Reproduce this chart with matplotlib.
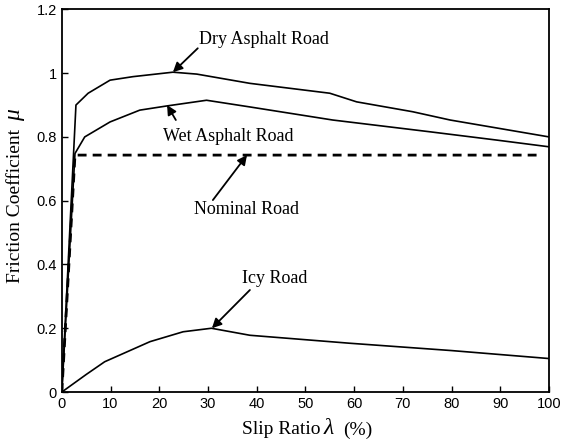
import matplotlib
matplotlib.use("Agg")
import matplotlib.pyplot as plt

dry_x = [0, 2.9, 5.4, 9.9, 14.6, 22.8, 27.7, 38.6, 55, 60.5, 72, 79.7, 100]
dry_y = [0, 0.90, 0.937, 0.978, 0.989, 1.003, 0.997, 0.968, 0.937, 0.91, 0.879, 0.853, 0.80]

wet_x = [0, 2.7, 4.7, 9.9, 16, 21.5, 29.7, 38.6, 55.6, 75.6, 89.3, 100]
wet_y = [0, 0.748, 0.80, 0.847, 0.884, 0.897, 0.915, 0.894, 0.853, 0.816, 0.79, 0.769]

nom_x = [0, 2.7, 98.5]
nom_y = [0, 0.743, 0.743]

icy_x = [0, 5, 8.8, 18.1, 24.9, 30.7, 38.6, 59.1, 80, 100]
icy_y = [0, 0.055, 0.095, 0.158, 0.189, 0.20, 0.178, 0.153, 0.13, 0.105]

xticks = [0, 10, 20, 30, 40, 50, 60, 70, 80, 90, 100]
yticks = [0, 0.2, 0.4, 0.6, 0.8, 1.0, 1.2]
ytick_labels = ["0", "0.2", "0.4", "0.6", "0.8", "1", "1.2"]

W, H = 562, 446
fig = plt.figure(figsize=(W / 100, H / 100), dpi=100)
ax = fig.add_axes([0.110, 0.121, 0.867, 0.858])

ax.plot(dry_x, dry_y, color='black', lw=1.2)
ax.plot(wet_x, wet_y, color='black', lw=1.2)
ax.plot(nom_x, nom_y, color='black', lw=2.0, ls=(0, (3.2, 2.2)))
ax.plot(icy_x, icy_y, color='black', lw=1.2)

ax.set_xlim(0, 100)
ax.set_ylim(0, 1.2)
ax.set_xticks(xticks)
ax.set_yticks(yticks)
ax.set_yticklabels(ytick_labels)
ax.tick_params(direction='in', length=4, width=1, labelsize=10.5,
               top=False, right=False)
for lab in ax.get_xticklabels() + ax.get_yticklabels():
    lab.set_fontfamily('Liberation Sans')
for s in ax.spines.values():
    s.set_linewidth(1.3)

serif = 'Liberation Serif'

def fx(px):
    return px / W

def fy(py):
    return 1 - py / H

# axis labels built from pieces so the Greek letters can be larger
fig.text(fx(281), fy(430), 'Slip Ratio', fontfamily=serif, fontsize=14, ha='center', va='center')
fig.text(fx(329), fy(428), 'λ', fontfamily=serif, fontsize=17, style='italic', ha='center', va='center')
fig.text(fx(358), fy(430), '(%)', fontfamily=serif, fontsize=14, ha='center', va='center')
fig.text(fx(16), fy(206), 'Friction Coefficient', fontfamily=serif, fontsize=14,
         rotation=90, ha='center', va='center')
fig.text(fx(15), fy(115), 'μ', fontfamily=serif, fontsize=17, style='italic',
         rotation=90, ha='center', va='center')

ap = dict(arrowstyle='-|>', color='black', lw=1.3, mutation_scale=14, shrinkA=0, shrinkB=0)
ax.text(41.5, 1.107, 'Dry Asphalt Road', fontfamily=serif, fontsize=13, ha='center', va='center')
ax.annotate('', xy=(22.8, 1.003), xytext=(27.9, 1.078), arrowprops=ap)
ax.text(34.1, 0.80, 'Wet Asphalt Road', fontfamily=serif, fontsize=13, ha='center', va='center')
ax.annotate('', xy=(21.6, 0.90), xytext=(23.4, 0.853), arrowprops=ap)
ax.text(38.0, 0.571, 'Nominal Road', fontfamily=serif, fontsize=13, ha='center', va='center')
ax.annotate('', xy=(38.0, 0.743), xytext=(31.0, 0.602), arrowprops=ap)
ax.text(43.7, 0.357, 'Icy Road', fontfamily=serif, fontsize=13, ha='center', va='center')
ax.annotate('', xy=(30.8, 0.20), xytext=(38.6, 0.32), arrowprops=ap)

fig.savefig('out.png', dpi=100)
